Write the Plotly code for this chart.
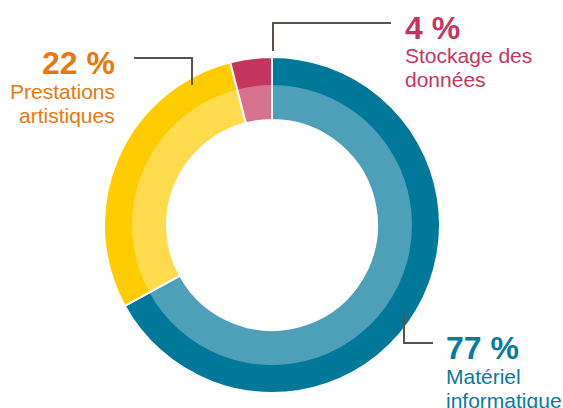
import plotly.graph_objects as go

W, H = 563, 408

# slice sizes as they appear on the ring (clockwise from 12 o'clock)
categories = ["Matériel informatique", "Prestations artistiques", "Stockage des données"]
shares = [67, 29, 4]
pct_labels = ["77 %", "22 %", "4 %"]
desc_lines = [["Matériel", "informatique"], ["Prestations", "artistiques"], ["Stockage des", "données"]]

dark = ["#00789A", "#FFCC00", "#C5365F"]
text_col = ["#0A7A9C", "#E8780F", "#C5365F"]
line_col = "#5B524E"
FONT = "Arial, Liberation Sans, sans-serif"


def px(x):
    return x / W


def py(y):
    return 1 - y / H


def domain(cx, cy, r):
    return dict(x=[px(cx - r), px(cx + r)], y=[py(cy + r), py(cy - r)])


cx, cy = 272, 225
R_out, R_mid, R_in = 168, 140, 105

fig = go.Figure()

# outer (dark) ring covering the whole band
fig.add_trace(go.Pie(
    labels=categories, values=shares, sort=False, direction="clockwise", rotation=0,
    hole=R_in / R_out, domain=domain(cx, cy, R_out),
    marker=dict(colors=dark, line=dict(color="white", width=2)),
    textinfo="none", hoverinfo="label+percent", showlegend=False,
))

# lighter inner band: white veil over the dark ring
fig.add_trace(go.Pie(
    labels=categories, values=shares, sort=False, direction="clockwise", rotation=0,
    hole=R_in / R_mid, domain=domain(cx, cy, R_mid),
    marker=dict(colors=["rgba(255,255,255,0.30)"] * 3, line=dict(width=0)),
    textinfo="none", hoverinfo="skip", showlegend=False,
))

# label placement: (x, percent baseline, anchor)
label_pos = [(444, 359, "left"), (117, 74, "right"), (403, 39, "left")]

annotations = []
for i, (x, base, anchor) in enumerate(label_pos):
    annotations.append(dict(
        x=px(x), y=py(base - 11), xref="paper", yref="paper",
        xanchor=anchor, yanchor="middle", showarrow=False,
        text="<b>" + pct_labels[i] + "</b>",
        font=dict(family=FONT, size=32, color=text_col[i]),
    ))
    for j, t in enumerate(desc_lines[i]):
        annotations.append(dict(
            x=px(x), y=py(base + 25 + 24 * j - 8), xref="paper", yref="paper",
            xanchor=anchor, yanchor="middle", showarrow=False, text=t,
            font=dict(family=FONT, size=21, color=text_col[i]),
        ))

# leader lines
leaders = [
    [(404, 313), (404, 343), (433, 343)],
    [(134, 58), (192, 58), (192, 85)],
    [(273, 51), (273, 23), (391, 23)],
]
shapes = []
for pts in leaders:
    path = "M " + " L ".join(f"{px(x)},{py(y)}" for x, y in pts)
    shapes.append(dict(type="path", path=path, xref="paper", yref="paper",
                       line=dict(color=line_col, width=2)))

fig.update_layout(
    width=W, height=H, margin=dict(l=0, r=0, t=0, b=0),
    paper_bgcolor="white", plot_bgcolor="white",
    annotations=annotations, shapes=shapes,
)

fig.write_html("out.html", config={"displayModeBar": False},
               post_script="document.body.style.margin='0';")
